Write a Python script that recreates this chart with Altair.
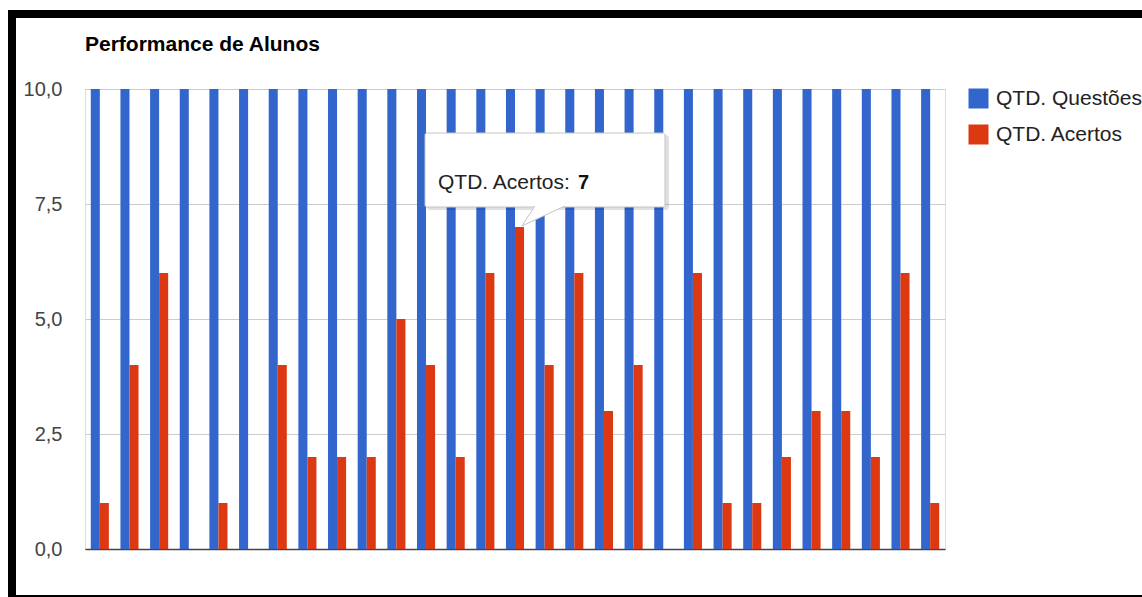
import altair as alt
import pandas as pd

# Students (x axis labels are not shown, so simple ids are used)
alunos = [f"Aluno {i:02d}" for i in range(1, 30)]
questoes = [10] * 29
acertos = [1, 4, 6, 0, 1, 0, 4, 2, 2, 2, 5, 4, 2, 6, 7, 4, 6, 3, 4, 0, 6, 1, 1, 2, 3, 3, 2, 6, 1]

series = ["QTD. Questões", "QTD. Acertos"]
colors = ["#3366cc", "#dc3912"]

rows = []
for nome, q, a in zip(alunos, questoes, acertos):
    rows.append({"aluno": nome, "serie": series[0], "valor": q})
    rows.append({"aluno": nome, "serie": series[1], "valor": a})
df = pd.DataFrame(rows)

FONT = "Arial"

bars = alt.Chart(df).mark_bar().encode(
    x=alt.X("aluno:N", sort=alunos,
            scale=alt.Scale(paddingInner=0.39, paddingOuter=0.195),
            axis=alt.Axis(title=None, labels=False, ticks=False, grid=False,
                          domain=True, domainColor="#444", domainWidth=1.5)),
    xOffset=alt.XOffset("serie:N", scale=alt.Scale(domain=series, paddingInner=0, paddingOuter=0)),
    y=alt.Y("valor:Q", scale=alt.Scale(domain=[0, 10], nice=False),
            axis=alt.Axis(title=None, values=[0, 2.5, 5, 7.5, 10], ticks=False, domain=False,
                          labelExpr="replace(format(datum.value, '.1f'), '.', ',')",
                          labelPadding=23, labelFontSize=20, labelColor="#444",
                          labelFont=FONT, gridColor="#cccccc")),
    color=alt.Color("serie:N", scale=alt.Scale(domain=series, range=colors),
                    legend=alt.Legend(title=None, orient="none", legendX=883, legendY=-1,
                                      symbolType="square", symbolSize=400, symbolStrokeWidth=0,
                                      labelFontSize=21, labelFont=FONT, labelColor="#222",
                                      labelOffset=7, rowPadding=14, padding=0)),
)

one = pd.DataFrame({"k": [0]})

# Chart title, placed above the plot area
title = alt.Chart(one).mark_text(
    text="Performance de Alunos", font=FONT, fontSize=21, fontWeight="bold", color="#000",
    align="left", baseline="alphabetic"
).encode(x=alt.value(0), y=alt.value(-38))

# Hover tooltip over the 7-point bar
shadow = alt.Chart(one).mark_rect(fill="#000000", fillOpacity=0.12, cornerRadius=3).encode(
    x=alt.value(342), x2=alt.value(584), y=alt.value(46), y2=alt.value(121)
)
box = alt.Chart(one).mark_rect(fill="white", stroke="#c4c4c4", strokeWidth=1, cornerRadius=2).encode(
    x=alt.value(340), x2=alt.value(580), y=alt.value(44), y2=alt.value(118)
)
pointer = alt.Chart(one).mark_point(
    shape="M -0.39 -0.48 L -0.98 0.43 L 0.98 -0.48",
    filled=True, fill="white", stroke="#c4c4c4", strokeWidth=1, opacity=1, size=1936
).encode(x=alt.value(458.5), y=alt.value(127.5))
tip_label = alt.Chart(one).mark_text(
    text="QTD. Acertos:", font=FONT, fontSize=21, color="#222", align="left", baseline="alphabetic"
).encode(x=alt.value(353), y=alt.value(100))
tip_value = alt.Chart(one).mark_text(
    text="7", font=FONT, fontSize=20, fontWeight="bold", color="#111", align="left", baseline="alphabetic"
).encode(x=alt.value(493), y=alt.value(100))

# Black frame around the whole chart
frame = alt.Chart(one).mark_rect(fillOpacity=0, stroke="black", strokeWidth=8).encode(
    x=alt.value(-73), x2=alt.value(1090), y=alt.value(-75), y2=alt.value(510)
)

chart = alt.layer(bars, title, shadow, box, pointer, tip_label, tip_value, frame).properties(
    width=860,
    height=460,
    autosize=alt.AutoSizeParams(type="none"),
    padding={"left": 85, "top": 89, "right": 197, "bottom": 48},
).configure_view(stroke=None).configure(background="white")

chart.save("out.html", embed_options={"renderer": "svg", "actions": False})
